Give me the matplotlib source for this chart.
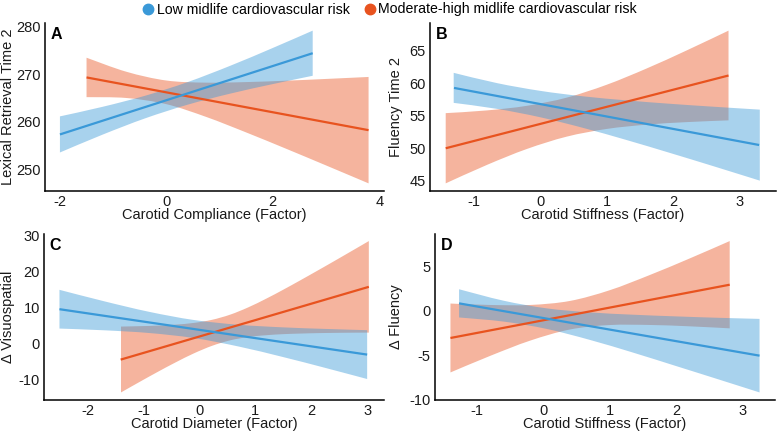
import matplotlib
matplotlib.use('Agg')
import matplotlib.pyplot as plt
from matplotlib.lines import Line2D
from matplotlib.path import Path
from matplotlib.patches import PathPatch

plt.rcParams['font.family'] = ['Liberation Sans', 'DejaVu Sans']
plt.rcParams['axes.unicode_minus'] = False

BLUE = '#3A99D8'
RED = '#E8531F'
legend_labels = ['Low midlife cardiovascular risk', 'Moderate-high midlife cardiovascular risk']

# ---------------- Panel A ----------------
a_xlabel = 'Carotid Compliance (Factor)'
a_ylabel = 'Lexical Retrieval Time 2'
a_xticks = [-2, 0, 2, 4]
a_yticks = [250, 260, 270, 280]
a_low_line_x = [-2.0, 2.75]
a_low_line_y = [257.3, 274.4]
a_low_x = [-2.0, -1.2, -0.4, 0.4, 1.2, 2.0, 2.75]
a_low_lo = [253.5, 257.25, 260.68, 263.56, 265.89, 267.9, 269.65]
a_low_hi = [261.1, 263.11, 265.44, 268.32, 271.75, 275.5, 279.15]
a_mod_line_x = [-1.5, 3.8]
a_mod_line_y = [269.3, 258.2]
a_mod_x = [-1.5, -0.75, 0.0, 0.75, 1.5, 2.25, 3.0, 3.8]
a_mod_lo = [265.15, 264.97, 263.67, 260.98, 257.72, 254.29, 250.78, 247.0]
a_mod_hi = [273.45, 270.49, 268.65, 268.2, 268.32, 268.61, 268.98, 269.4]

# ---------------- Panel B ----------------
b_xlabel = 'Carotid Stiffness (Factor)'
b_ylabel = 'Fluency Time 2'
b_xticks = [-1, 0, 1, 2, 3]
b_yticks = [45, 50, 55, 60, 65]
b_low_line_x = [-1.295, 3.29]
b_low_line_y = [59.28, 50.5]
b_low_x = [-1.3, -0.65, 0.0, 0.65, 1.3, 1.95, 2.6, 3.3]
b_low_lo = [56.98, 56.06, 54.77, 53.12, 51.26, 49.28, 47.25, 45.02]
b_low_hi = [61.6, 60.02, 58.83, 57.98, 57.36, 56.84, 56.39, 55.94]
b_mod_line_x = [-1.42, 2.83]
b_mod_line_y = [50.0, 61.19]
b_mod_x = [-1.42, -0.8, -0.2, 0.4, 1.0, 1.6, 2.2, 2.83]
b_mod_lo = [44.6, 47.44, 49.89, 51.79, 52.97, 53.63, 54.02, 54.29]
b_mod_hi = [55.4, 55.82, 56.53, 57.79, 59.77, 62.27, 65.04, 68.09]

# ---------------- Panel C ----------------
c_xlabel = 'Carotid Diameter (Factor)'
c_ylabel = '\u0394 Visuospatial'
c_xticks = [-2, -1, 0, 1, 2, 3]
c_yticks = [-10, 0, 10, 20, 30]
c_low_line_x = [-2.5, 3.0]
c_low_line_y = [9.63, -2.96]
c_low_x = [-2.5, -1.7, -0.9, -0.1, 0.7, 1.5, 2.25, 3.0]
c_low_lo = [4.26, 3.78, 3.03, 1.64, -0.71, -3.65, -6.64, -9.73]
c_low_hi = [15.0, 11.82, 8.91, 6.64, 5.31, 4.59, 4.16, 3.81]
c_mod_line_x = [-1.406, 3.03]
c_mod_line_y = [-4.35, 15.83]
c_mod_x = [-1.4, -1.075, -0.75, -0.425, -0.1, 0.225, 0.55, 0.875, 1.2, 1.5, 1.8, 2.1, 2.4, 2.7, 3.03]
c_mod_lo = [-13.45, -10.6, -7.81, -5.13, -2.64, -0.54, 0.99, 1.92, 2.42, 2.71, 2.87, 2.99, 3.06, 3.11, 3.14]
c_mod_hi = [4.81, 4.92, 5.07, 5.35, 5.82, 6.68, 8.11, 10.14, 12.58, 15.03, 17.59, 20.21, 22.86, 25.55, 28.52]

# ---------------- Panel D ----------------
d_xlabel = 'Carotid Stiffness (Factor)'
d_ylabel = '\u0394 Fluency'
d_xticks = [-1, 0, 1, 2, 3]
d_yticks = [-10, -5, 0, 5]
d_low_line_x = [-1.27, 3.26]
d_low_line_y = [0.82, -5.04]
d_low_x = [-1.27, -0.6, 0.05, 0.7, 1.35, 2.0, 2.65, 3.26]
d_low_lo = [-0.76, -1.22, -2.04, -3.27, -4.69, -6.2, -7.72, -9.16]
d_low_hi = [2.40, 1.12, 0.26, -0.19, -0.45, -0.64, -0.8, -0.92]
d_mod_line_x = [-1.40, 2.81]
d_mod_line_y = [-3.06, 2.91]
d_mod_x = [-1.4, -0.8, -0.2, 0.4, 1.0, 1.6, 2.2, 2.81]
d_mod_lo = [-6.92, -5.06, -3.36, -2.11, -1.61, -1.6, -1.75, -1.98]
d_mod_hi = [0.8, 0.64, 0.64, 1.09, 2.29, 3.98, 5.83, 7.8]


def smooth_edge(xs, ys):
    """Catmull-Rom through the read points, expressed as cubic Bezier segments."""
    pts = list(zip(xs, ys))
    n = len(pts)
    verts, codes = [], []
    for i in range(n - 1):
        p0 = pts[i - 1] if i > 0 else pts[i]
        p1 = pts[i]
        p2 = pts[i + 1]
        p3 = pts[i + 2] if i + 2 < n else pts[i + 1]
        c1 = (p1[0] + (p2[0] - p0[0]) / 6, p1[1] + (p2[1] - p0[1]) / 6)
        c2 = (p2[0] - (p3[0] - p1[0]) / 6, p2[1] - (p3[1] - p1[1]) / 6)
        verts += [c1, c2, p2]
        codes += [Path.CURVE4] * 3
    return verts, codes


def ribbon(ax, xs, lo, hi, color, alpha):
    v_hi, c_hi = smooth_edge(xs, hi)
    v_lo, c_lo = smooth_edge(xs[::-1], lo[::-1])
    verts = [(xs[0], hi[0])] + v_hi + [(xs[-1], lo[-1])] + v_lo + [(xs[0], hi[0])]
    codes = [Path.MOVETO] + c_hi + [Path.LINETO] + c_lo + [Path.CLOSEPOLY]
    ax.add_patch(PathPatch(Path(verts, codes), facecolor=color, alpha=alpha, lw=0))


W, H = 778, 434
fig = plt.figure(figsize=(W / 100, H / 100), dpi=100)

rects = {
    'A': (44.5, 23, 384, 191),
    'B': (430, 23, 775.5, 191),
    'C': (44, 233.5, 384.3, 400),
    'D': (435, 233.5, 775, 400),
}
ylab_x = {'A': 15, 'B': 403, 'C': 15, 'D': 403}

panels = [
    ('A', a_xlabel, a_ylabel, a_xticks, a_yticks,
     (a_low_line_x, a_low_line_y, a_low_x, a_low_lo, a_low_hi),
     (a_mod_line_x, a_mod_line_y, a_mod_x, a_mod_lo, a_mod_hi)),
    ('B', b_xlabel, b_ylabel, b_xticks, b_yticks,
     (b_low_line_x, b_low_line_y, b_low_x, b_low_lo, b_low_hi),
     (b_mod_line_x, b_mod_line_y, b_mod_x, b_mod_lo, b_mod_hi)),
    ('C', c_xlabel, c_ylabel, c_xticks, c_yticks,
     (c_low_line_x, c_low_line_y, c_low_x, c_low_lo, c_low_hi),
     (c_mod_line_x, c_mod_line_y, c_mod_x, c_mod_lo, c_mod_hi)),
    ('D', d_xlabel, d_ylabel, d_xticks, d_yticks,
     (d_low_line_x, d_low_line_y, d_low_x, d_low_lo, d_low_hi),
     (d_mod_line_x, d_mod_line_y, d_mod_x, d_mod_lo, d_mod_hi)),
]

TXT = '#1a1a1a'
for tag, xl, yl, xt, yt, low, mod in panels:
    l, t, r, b = rects[tag]
    ax = fig.add_axes([l / W, 1 - b / H, (r - l) / W, (b - t) / H])
    ribbon(ax, mod[2], mod[3], mod[4], RED, 0.43)
    ax.plot(mod[0], mod[1], color=RED, lw=1.6, solid_capstyle='butt')
    ribbon(ax, low[2], low[3], low[4], BLUE, 0.44)
    ax.plot(low[0], low[1], color=BLUE, lw=1.6, solid_capstyle='butt')

    xs = list(low[2]) + list(mod[2])
    ys = list(low[3]) + list(low[4]) + list(mod[3]) + list(mod[4])
    x0, x1 = min(xs), max(xs)
    y0, y1 = min(ys), max(ys)
    ax.set_xlim(x0 - 0.05 * (x1 - x0), x1 + 0.05 * (x1 - x0))
    ax.set_ylim(y0 - 0.05 * (y1 - y0), y1 + 0.05 * (y1 - y0))
    ax.set_xticks(xt)
    ax.set_yticks(yt)
    ax.tick_params(length=0, labelsize=10.5, labelcolor=TXT)
    ax.tick_params(axis='y', pad=3)
    ax.tick_params(axis='x', pad=3)
    for s in ('top', 'right'):
        ax.spines[s].set_visible(False)
    for s in ('left', 'bottom'):
        ax.spines[s].set_color('black')
        ax.spines[s].set_linewidth(1.1)
    ax.set_facecolor('white')
    ax.set_xlabel(xl, fontsize=10.5, color=TXT)
    ax.set_ylabel(yl, fontsize=10.5, color=TXT)
    ax.xaxis.set_label_coords(0.5, -0.10)
    ax.yaxis.set_label_coords((ylab_x[tag] - l) / (r - l), 0.5)
    ax.annotate(tag, xy=(0, 1), xycoords='axes fraction', xytext=(4.2, -3.2),
                textcoords='offset points', ha='left', va='top',
                fontsize=11.5, fontweight='bold', color='black')

handles = [Line2D([], [], ls='none', marker='o', markersize=7.5, color=BLUE),
           Line2D([], [], ls='none', marker='o', markersize=7.5, color=RED)]
fig.legend(handles, legend_labels, loc='center', bbox_to_anchor=(0.5, 1 - 9.5 / H),
           ncol=2, frameon=False, fontsize=10.2, handletextpad=0.1,
           columnspacing=0.9, handlelength=1.0, borderaxespad=0)

fig.savefig('out.png', dpi=100, facecolor='white')
